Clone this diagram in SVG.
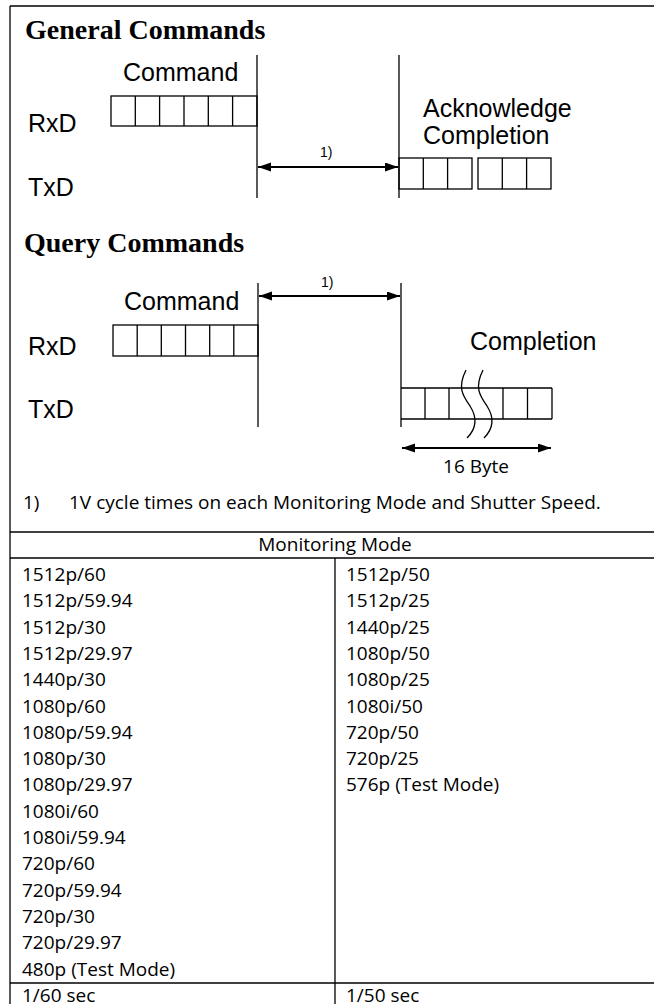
<svg xmlns="http://www.w3.org/2000/svg" width="654" height="1004" viewBox="0 0 654 1004">
<defs>
<style>
.title{font-family:"Liberation Serif","Times New Roman",serif;font-weight:bold;font-size:28px;fill:#000}
.lbl{font-family:"Liberation Sans",Arial,sans-serif;font-size:25px;fill:#000}
.sm{font-family:"Liberation Sans",Arial,sans-serif;font-size:14px;fill:#000}
.tx{font-family:"Open Sans","Noto Sans",sans-serif;font-size:19px;fill:#000}
.ln{stroke:#000;stroke-width:1.3;fill:none}
.box{stroke:#000;stroke-width:1.3;fill:none}
.arr{stroke:#000;stroke-width:2;fill:none;marker-start:url(#ah);marker-end:url(#ah)}
</style>
<marker id="ah" markerUnits="userSpaceOnUse" markerWidth="14" markerHeight="10" refX="13" refY="4.5" orient="auto-start-reverse">
<path d="M0,0 L13,4.5 L0,9 z" fill="#000"/>
</marker>
</defs>
<rect width="654" height="1004" fill="#fff"/>

<g id="frame">
<line class="ln" x1="10" y1="6" x2="654" y2="6"/>
<line class="ln" x1="10" y1="6" x2="10" y2="1004"/>
</g>

<g id="general">
<text class="title" x="25" y="39">General Commands</text>
<text class="lbl" x="123" y="81">Command</text>
<text class="lbl" x="28" y="132">RxD</text>
<text class="lbl" x="28" y="196">TxD</text>
<text class="lbl" x="423" y="117">Acknowledge</text>
<text class="lbl" x="423" y="144">Completion</text>
<text class="sm" x="320" y="157">1)</text>
<g id="gen-rxd-bytes">
<rect class="box" x="111" y="96" width="146" height="30"/>
<path class="ln" d="M135.3,96V126M159.6,96V126M184,96V126M208.3,96V126M232.6,96V126"/>
</g>
<g id="gen-txd-bytes">
<rect class="box" x="399" y="158" width="73" height="31"/>
<path class="ln" d="M423.3,158V189M447.6,158V189"/>
<rect class="box" x="478" y="158" width="73" height="31"/>
<path class="ln" d="M502.3,158V189M526.6,158V189"/>
</g>
<line class="ln" x1="257" y1="55" x2="257" y2="198"/>
<line class="ln" x1="399" y1="55" x2="399" y2="198"/>
</g>

<g id="query">
<text class="title" x="24" y="252">Query Commands</text>
<text class="lbl" x="124" y="310">Command</text>
<text class="lbl" x="28" y="355">RxD</text>
<text class="lbl" x="28" y="418">TxD</text>
<text class="lbl" x="470" y="350">Completion</text>
<text class="sm" x="321" y="287">1)</text>
<g id="q-rxd-bytes">
<rect class="box" x="113" y="325" width="145" height="31"/>
<path class="ln" d="M137.2,325V356M161.3,325V356M185.5,325V356M209.7,325V356M233.8,325V356"/>
</g>
<g id="q-txd-bytes">
<path class="ln" d="M401,388H552M401,419H552M552,388V419M425,388V419M449,388V419M503,388V419M527.5,388V419"/>
<path class="ln" d="M466,370 C457,388 463,396 470,406 C477,417 477,428 467,438"/>
<path class="ln" d="M483,370 C474,388 480,396 487,406 C494,417 494,428 484,438"/>
</g>
<line class="ln" x1="258" y1="283" x2="258" y2="427"/>
<line class="ln" x1="401" y1="283" x2="401" y2="427"/>
<text class="tx" x="476" y="473" text-anchor="middle">16 Byte</text>
</g>

<g id="connectors">
<line class="arr" x1="258" y1="167" x2="398" y2="167"/>
<line class="arr" x1="259" y1="296" x2="400" y2="296"/>
<line class="arr" x1="402" y1="448" x2="551" y2="448"/>
</g>

<g id="footnote">
<text class="tx" x="23" y="509">1)</text>
<text class="tx" x="69" y="509">1V cycle times on each Monitoring Mode and Shutter Speed.</text>
</g>

<g id="table">
<line class="ln" x1="10" y1="532" x2="654" y2="532"/>
<line class="ln" x1="10" y1="558" x2="654" y2="558"/>
<line class="ln" x1="10" y1="983" x2="654" y2="983"/>
<line class="ln" x1="335" y1="558" x2="335" y2="1004"/>
<text class="tx" x="335" y="551" text-anchor="middle">Monitoring Mode</text>
<g id="col-left">
<text class="tx" x="22" y="581">1512p/60</text>
<text class="tx" x="22" y="607.3">1512p/59.94</text>
<text class="tx" x="22" y="633.6">1512p/30</text>
<text class="tx" x="22" y="659.9">1512p/29.97</text>
<text class="tx" x="22" y="686.2">1440p/30</text>
<text class="tx" x="22" y="712.5">1080p/60</text>
<text class="tx" x="22" y="738.8">1080p/59.94</text>
<text class="tx" x="22" y="765.1">1080p/30</text>
<text class="tx" x="22" y="791.4">1080p/29.97</text>
<text class="tx" x="22" y="817.7">1080i/60</text>
<text class="tx" x="22" y="844">1080i/59.94</text>
<text class="tx" x="22" y="870.3">720p/60</text>
<text class="tx" x="22" y="896.6">720p/59.94</text>
<text class="tx" x="22" y="922.9">720p/30</text>
<text class="tx" x="22" y="949.2">720p/29.97</text>
<text class="tx" x="22" y="975.5">480p (Test Mode)</text>
<text class="tx" x="22" y="1001.5">1/60 sec</text>
</g>
<g id="col-right">
<text class="tx" x="346" y="581">1512p/50</text>
<text class="tx" x="346" y="607.3">1512p/25</text>
<text class="tx" x="346" y="633.6">1440p/25</text>
<text class="tx" x="346" y="659.9">1080p/50</text>
<text class="tx" x="346" y="686.2">1080p/25</text>
<text class="tx" x="346" y="712.5">1080i/50</text>
<text class="tx" x="346" y="738.8">720p/50</text>
<text class="tx" x="346" y="765.1">720p/25</text>
<text class="tx" x="346" y="791.4">576p (Test Mode)</text>
<text class="tx" x="346" y="1001.5">1/50 sec</text>
</g>
</g>
</svg>
